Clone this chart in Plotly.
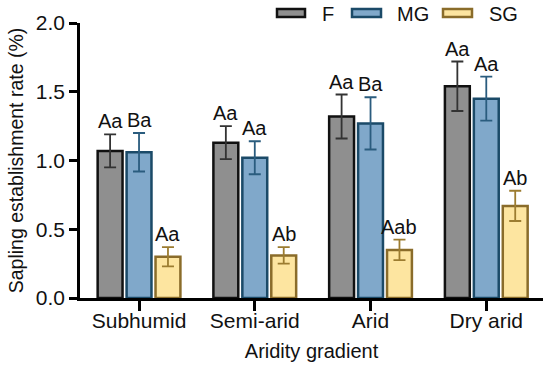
import plotly.graph_objects as go

categories = ["Subhumid", "Semi-arid", "Arid", "Dry arid"]
series_names = ["F", "MG", "SG"]
f_values = [1.07, 1.13, 1.32, 1.54]
f_errors = [0.12, 0.12, 0.16, 0.18]
mg_values = [1.06, 1.02, 1.27, 1.45]
mg_errors = [0.14, 0.12, 0.19, 0.16]
sg_values = [0.30, 0.31, 0.35, 0.67]
sg_errors = [0.07, 0.06, 0.075, 0.11]
f_letters = ["Aa", "Aa", "Aa", "Aa"]
mg_letters = ["Ba", "Aa", "Ba", "Aa"]
sg_letters = ["Aa", "Ab", "Aab", "Ab"]
y_ticks = [0.0, 0.5, 1.0, 1.5, 2.0]
y_tick_labels = ["0.0", "0.5", "1.0", "1.5", "2.0"]

FONT = "Liberation Sans, Arial, sans-serif"
fills = ["#8f8f8f", "#80a8ca", "#fde5a0"]
borders = ["#111111", "#1b4a68", "#8a6c2a"]
err_colors = ["#333333", "#2a5c7e", "#9c7c30"]

values = [f_values, mg_values, sg_values]
errors = [f_errors, mg_errors, sg_errors]
letters = [f_letters, mg_letters, sg_letters]

BARGAP = 0.25
slot = (1 - BARGAP) / 3

fig = go.Figure()
for j, name in enumerate(series_names):
    fig.add_trace(go.Bar(
        x=categories, y=values[j], name=name,
        marker=dict(color=fills[j], line=dict(color=borders[j], width=2.5)),
        error_y=dict(type="data", array=errors[j], visible=True,
                     color=err_colors[j], thickness=1.8, width=6),
        showlegend=False,
    ))

annotations = []
for j in range(3):
    for i in range(len(categories)):
        annotations.append(dict(
            x=i + (j - 1) * slot, y=values[j][i] + errors[j][i],
            xref="x", yref="y", text=letters[j][i], showarrow=False,
            yanchor="bottom", yshift=0,
            font=dict(family=FONT, size=20, color="#111111"),
        ))

# manual legend (wide rectangular keys)
shapes = []
leg_x = [(277, 305, 320), (352, 381, 395), (443, 472, 487)]
L, R, T, B = 80, 7, 23, 74
pw, ph = 550 - L - R, 372 - T - B
for j, (x0, x1, tx) in enumerate(leg_x):
    shapes.append(dict(type="rect", xref="paper", yref="paper",
                       x0=(x0 - L) / pw, x1=(x1 - L) / pw,
                       y0=(298 - 17) / ph, y1=(298 - 9) / ph,
                       fillcolor=fills[j], line=dict(color=borders[j], width=2.5)))
    annotations.append(dict(x=(tx - L) / pw, y=(298 - 14) / ph, xref="paper", yref="paper",
                            text=series_names[j], showarrow=False, xanchor="left", yanchor="middle",
                            font=dict(family=FONT, size=20, color="#111111")))

fig.update_layout(
    width=550, height=372,
    margin=dict(l=L, r=R, t=T, b=B),
    plot_bgcolor="white", paper_bgcolor="white",
    barmode="group", bargap=BARGAP, bargroupgap=0.14,
    font=dict(family=FONT, size=20, color="#111111"),
    annotations=annotations, shapes=shapes,
    xaxis=dict(range=[-0.51, 3.49], showline=True, linecolor="black", linewidth=2.5,
               ticks="outside", ticklen=10, tickwidth=2.5, tickcolor="black",
               ticklabelstandoff=-8,
               title=dict(text="Aridity gradient", standoff=14,
                          font=dict(family=FONT, size=20)),
               tickfont=dict(family=FONT, size=21), showgrid=False),
    yaxis=dict(range=[0, 2], showline=True, linecolor="black", linewidth=2.5,
               ticks="outside", ticklen=8, tickwidth=2.5, tickcolor="black",
               tickvals=y_ticks, ticktext=y_tick_labels,
               title=dict(text="Sapling establishment rate (%)", standoff=8,
                          font=dict(family=FONT, size=19.5)),
               tickfont=dict(family=FONT, size=21), showgrid=False, zeroline=False),
)

fig.write_html("out.html", config={"displayModeBar": False},
               post_script="document.body.style.margin='0';")
